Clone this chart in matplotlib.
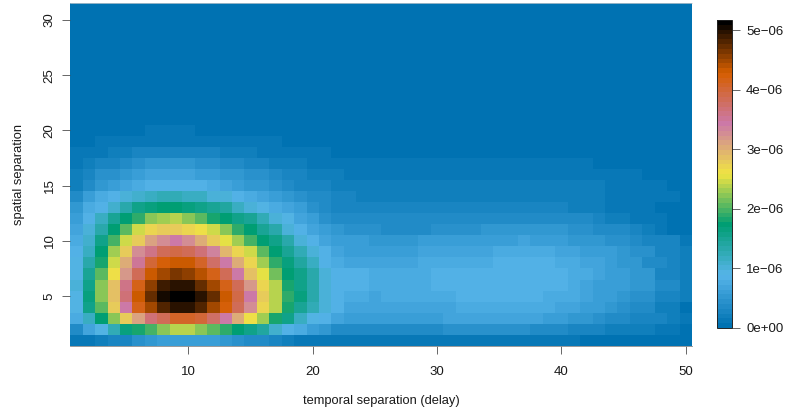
# space-time covariance heatmap, R fields::image.plot look
import numpy as np
import matplotlib
matplotlib.use('Agg')
import matplotlib.pyplot as plt
from matplotlib.colors import LinearSegmentedColormap, Normalize

plt.rcParams['font.family'] = ['Liberation Sans', 'DejaVu Sans']

W, H = 787, 418
GREY = '#4d4d4d'
INK = '#1a1a1a'

temporal = list(range(1, 51))
spatial = list(range(1, 32))
palette = ['#0072B2', '#56B4E9', '#009E73', '#F0E442', '#CC79A7', '#D55E00', '#000000']
vmax = 5.17e-6
cbar_ticks = [0, 1e-6, 2e-6, 3e-6, 4e-6, 5e-6]
cbar_labels = ['0e+00', '1e\u221206', '2e\u221206', '3e\u221206', '4e\u221206', '5e\u221206']

# values in units of 1e-7, one row per spatial separation (1 at the bottom)
rows_left = [
    [1, 1.5, 2.4, 3.2, 3.2, 4.6, 5.2, 5.8, 6.2, 6.2, 6.2, 5.8, 5.2, 4.6, 4, 3.6, 3.2, 2.4, 1.6, 1.6, 1, 1, 1, 1, 1],
    [3.5, 7, 9.5, 12.5, 16.5, 18.5, 20, 22.5, 24, 24, 22.5, 21, 19, 17, 16, 14, 11, 8.5, 7.4, 5.7, 5, 4, 4, 4, 4],
    [8, 12, 17, 22.5, 27.5, 31, 36.5, 38.5, 41, 41, 40, 37.5, 34.5, 30, 26, 23, 18.5, 16, 12, 9.5, 8.2, 6.7, 6.2, 6.2, 6.2],
    [9.5, 16, 21, 27.5, 34.5, 41.5, 45.2, 48, 49.7, 49.7, 48, 45.2, 42.5, 38, 33, 27, 23.5, 18, 15, 12.5, 10, 8.5, 7, 7, 7],
    [9.5, 16.5, 22.5, 28.5, 36.5, 43, 47.4, 50.7, 51.7, 51.2, 49.9, 46.9, 43.4, 39, 34.7, 28, 24, 19, 16.5, 13, 10.2, 8.6, 7.6, 7.6, 7.2],
    [10, 16, 22, 28.5, 36, 42, 46, 48.6, 49.9, 49.3, 47.4, 44.7, 42, 38, 32, 27, 23.5, 18.5, 16, 13, 10.2, 8.6, 8.6, 8.4, 7.8],
    [9.5, 15, 20.5, 26.5, 32, 38.5, 43.5, 45.2, 46.7, 46, 43.8, 42, 38, 34.5, 29, 25.5, 21.5, 17.5, 15.5, 13, 10.2, 8.8, 8.5, 8.5, 7.9],
    [9, 13.5, 18.5, 25, 30, 35.5, 40, 42.5, 43.3, 43, 41, 37.5, 34.7, 30.5, 27, 23, 19, 16.5, 14, 11.5, 8.8, 7.6, 7.2, 7.2, 6.9],
    [8.5, 11.5, 17, 23, 27.5, 32.5, 36, 38.5, 39, 38, 36.5, 33.5, 29.5, 27, 24.5, 20.5, 17, 15, 12.5, 10, 8.8, 6.8, 6.4, 6.4, 6.1],
    [7.8, 11, 15.5, 20, 24.5, 28, 31, 33, 34.5, 32.5, 30.5, 28, 25.5, 23, 20, 17, 15.5, 13, 10, 8.8, 7.2, 6.4, 5.8, 5.8, 5.4],
    [7, 9.7, 13, 17, 20.5, 24.5, 27, 28, 28, 27, 26, 24.5, 22, 19, 17, 15, 13, 10.5, 8.8, 6.6, 5.8, 5, 4.5, 4.5, 4.5],
    [6, 8.5, 11.5, 15, 17.5, 19.3, 22, 23, 24, 22.5, 20.5, 18.5, 17, 16, 15, 12.5, 10.5, 9, 6.6, 5.8, 4.6, 4, 3.5, 3.5, 3.5],
    [5, 7.5, 8.8, 11, 13.5, 15.5, 16.8, 17.2, 17.2, 16.8, 16, 15.3, 14, 12, 10.5, 9, 7.5, 6.8, 5.8, 4.6, 4, 3.2, 2.8, 2.8, 2.8],
    [4, 6, 7.5, 8.8, 10, 11, 12, 12.5, 12.5, 12, 11.5, 10.5, 9.7, 8.8, 7.8, 6.8, 5.8, 5, 4.5, 4, 3.6, 3.2, 2.8, 2.4, 2],
    [2.2, 4, 5, 6.4, 7.2, 8, 8.6, 8.8, 8.8, 8.8, 8.5, 8, 7.2, 6.4, 5.5, 5, 4.4, 3.6, 3.2, 2.8, 2.8, 2, 2, 2, 2],
    [2, 2.8, 4.4, 4.4, 5.2, 6, 6.9, 6.9, 6.9, 6.9, 6, 6, 5.2, 5.2, 4.4, 4.4, 3.6, 2.8, 2.8, 2, 2, 2, 1.2, 1.2, 1.2],
    [1.2, 2, 2.8, 2.8, 3.6, 4.4, 5.2, 5.2, 5.2, 5.2, 4.4, 4.4, 3.6, 3.6, 2.8, 2.8, 2, 2, 2, 1.2, 1.2, 1.2, 1.2, 1.2, 1.2],
    [1.2, 1.2, 1.2, 2, 2, 2.8, 2.8, 2.8, 2.8, 2.8, 2.8, 2.8, 2, 2, 2, 1.2, 1.2, 1.2, 1.2, 1.2, 1.2, .4, .4, .4, .4],
    [.4, .4, 1.2, 1.2, 1.2, 1.2, 1.2, 1.2, 1.2, 1.2, 1.2, 1.2, 1.2, 1.2, 1.2, 1.2, 1.2, .4, .4, .4, .4, .4, .4, .4, .4],
    [.4, .4, .4, .4, .4, .4, 1.2, 1.2, 1.2, 1.2, .4, .4, .4, .4, .4, .4, .4, .4, .4, .4, .4, .4, .4, .4, .4],
]
rows_right = [
    [1, 1, 1, 1, 1, 1, 1, 1, 1, 1, 1, 1, 1, 1, 1, 1, .6, .6, .6, .6, .6, .6, .6, .4, .4],
    [4, 4, 4, 4, 4, 4.4, 4.4, 4.4, 4.4, 4.4, 4.4, 4.4, 4, 4, 4, 3.2, 3.2, 2.9, 2.2, 2.2, 2.2, 1.9, 1.4, 1.4, .5],
    [6.2, 6.2, 6.2, 6.2, 6.2, 6.6, 6.6, 6.6, 6.6, 6.6, 6.6, 6.6, 6.6, 6.4, 5.8, 5.2, 5.2, 4.8, 4, 3.6, 3.2, 3.2, 3, 2.2, 1.4],
    [7, 7, 7, 7, 7, 7, 8, 8, 8, 8, 8, 8, 8, 7.4, 6.8, 6.8, 6, 6, 5, 4.8, 4, 4, 1.9, 1.9, .7],
    [7.4, 7.4, 8, 8, 8, 8, 8.5, 8.5, 8.5, 8.5, 8.5, 8.5, 8.5, 8, 8, 7.6, 6.8, 6.4, 5.8, 5.2, 4.8, 4.4, 3, 3, 1.9],
    [8, 8, 8, 8, 8.4, 8.4, 8.4, 8.4, 8.7, 8.7, 8.7, 8.7, 8.7, 8.4, 8.4, 8, 7.2, 6.4, 6.2, 6, 5.2, 5.2, 3.5, 3.5, 1.9],
    [8, 8, 8, 8, 8.2, 8.2, 8.2, 8.2, 8.7, 8.7, 8.7, 8.7, 8.7, 8.7, 8.3, 8, 7.7, 7, 6.2, 6, 5.2, 5.2, 3.2, 3.2, 1.9],
    [7, 7, 7, 7.6, 7.6, 7.6, 8, 8, 8, 8.5, 8.5, 8.5, 8.5, 8.5, 8, 7.6, 7, 6.6, 6.4, 5.2, 5.2, 3.6, 3.6, 2.8, 1.9],
    [6.4, 6.4, 6.4, 6.8, 6.8, 6.8, 6.8, 6.6, 6.6, 7.8, 7.8, 7.8, 7.8, 7.8, 7, 6.6, 6.4, 5.8, 5.8, 5, 4.6, 4.6, 2.8, 2.8, 2.2],
    [5.4, 5.4, 5.4, 5.8, 5.8, 5.8, 5.8, 6.2, 6.2, 6.2, 6.2, 6.8, 6.4, 6.4, 6.4, 5.6, 5.2, 5, 4.4, 4.4, 4, 3.2, 3.2, 2.8, 1],
    [4, 4, 4, 4, 4.4, 4.4, 4.4, 4.4, 4.9, 4.9, 4.9, 4.9, 4.9, 4.9, 4.9, 4.6, 4.6, 3.9, 3.6, 3.6, 2.8, 2.1, 1.6, .7, .7],
    [3.6, 3.6, 3.6, 3.6, 3.6, 3.6, 3.6, 3.9, 3.9, 3.9, 3.9, 3.9, 3.9, 3.9, 3.4, 3.4, 3.4, 3, 2.2, 2.2, 1.6, 1.6, 1.2, .5, .5],
    [2.8, 2.8, 2.8, 2.8, 2.8, 2.8, 2.8, 2.8, 3.2, 3.2, 3.2, 3.2, 3.2, 3.2, 3.2, 2.4, 2.4, 2.4, 1.6, 1.6, 1.2, 1.2, .6, .6, .6],
    [2, 2, 2, 2, 2, 2, 2, 2, 2, 2.4, 2.4, 2.4, 2.4, 2.4, 2, 2, 2, 2, 1.4, 1.4, 1.4, .9, .9, .9, .4],
    [2, 2, 2, 2, 2, 2, 2, 2, 2, 2, 2, 2, 2, 2, 2, 2, 2, 2, 1.2, 1.2, 1.2, 1.2, 1.2, .4, .4],
    [1.2, 1.2, 1.2, 1.2, 1.2, 1.2, 1.2, 1.2, 1.2, 1.2, 1.2, 1.2, 1.2, 1.2, 1.2, 1.2, 1.2, 1.2, 1.2, 1.2, 1.2, .4, .4, .4, .4],
    [1, 1, 1, 1, 1, 1, 1, 1, 1, 1, 1, 1, 1, 1, 1, 1, 1, .4, .4, .4, .4, .4, .4, .4, .4],
    [.4, .4, .4, .4, .4, .4, .4, .4, .4, .4, .4, .4, .4, .4, .4, .4, .4, .4, .4, .4, .4, .4, .4, .4, .4],
    [.3, .3, .3, .3, .3, .3, .3, .3, .3, .3, .3, .3, .3, .3, .3, .3, .3, .3, .3, .3, .3, .3, .3, .3, .3],
    [.2, .2, .2, .2, .2, .2, .2, .2, .2, .2, .2, .2, .2, .2, .2, .2, .2, .2, .2, .2, .2, .2, .2, .2, .2],
]
rows_top = [[0] * 50 for _ in range(11)]

cov = np.array([l + r for l, r in zip(rows_left, rows_right)] + rows_top) * 1e-7

def box(x0, y0, x1, y1):
    # pixel box, y from the top of the picture
    return [x0 / W, 1 - y1 / H, (x1 - x0) / W, (y1 - y0) / H]

cmap = LinearSegmentedColormap.from_list('cb', palette, N=64)
norm = Normalize(0, vmax)

fig = plt.figure(figsize=(W / 100, H / 100), dpi=100)
ax = fig.add_axes(box(70.3, 3.4, 692, 345.8))
mesh = ax.pcolormesh(temporal, spatial, cov, cmap=cmap, norm=norm, shading='nearest',
                     edgecolors='face', linewidth=0)

ax.set_xticks([10, 20, 30, 40, 50])
ax.set_yticks([5, 10, 15, 20, 25, 30])
ax.set_yticklabels(['5', '10', '15', '20', '25', '30'], rotation=90, va='center')
ax.tick_params(length=5.5, width=0.6, color=GREY, labelsize=9.5, labelcolor=INK)
ax.tick_params(axis='x', pad=9)
ax.tick_params(axis='y', pad=5)
# the frame only shows along the bottom and, faintly, the top
ax.spines['left'].set_visible(False)
ax.spines['right'].set_visible(False)
ax.spines['top'].set_linewidth(0.5)
ax.spines['top'].set_color('#cfcfcf')
ax.spines['bottom'].set_linewidth(0.6)
ax.spines['bottom'].set_color('#888888')
ax.set_xlabel('temporal separation (delay)', fontsize=9.3, color=INK, labelpad=12.5)
ax.set_ylabel('spatial separation', fontsize=9.3, color=INK, labelpad=13.7)

cax = fig.add_axes(box(716.5, 20, 731.5, 328))
cb = fig.colorbar(mesh, cax=cax)
cb.set_ticks(cbar_ticks)
cb.set_ticklabels(cbar_labels)
cb.ax.tick_params(length=5.5, width=0.6, color=GREY, labelsize=9.5, labelcolor=INK, pad=5)
cb.outline.set_linewidth(0.7)
cb.outline.set_edgecolor('#222222')

fig.savefig('out.png', dpi=100)
plt.close(fig)
